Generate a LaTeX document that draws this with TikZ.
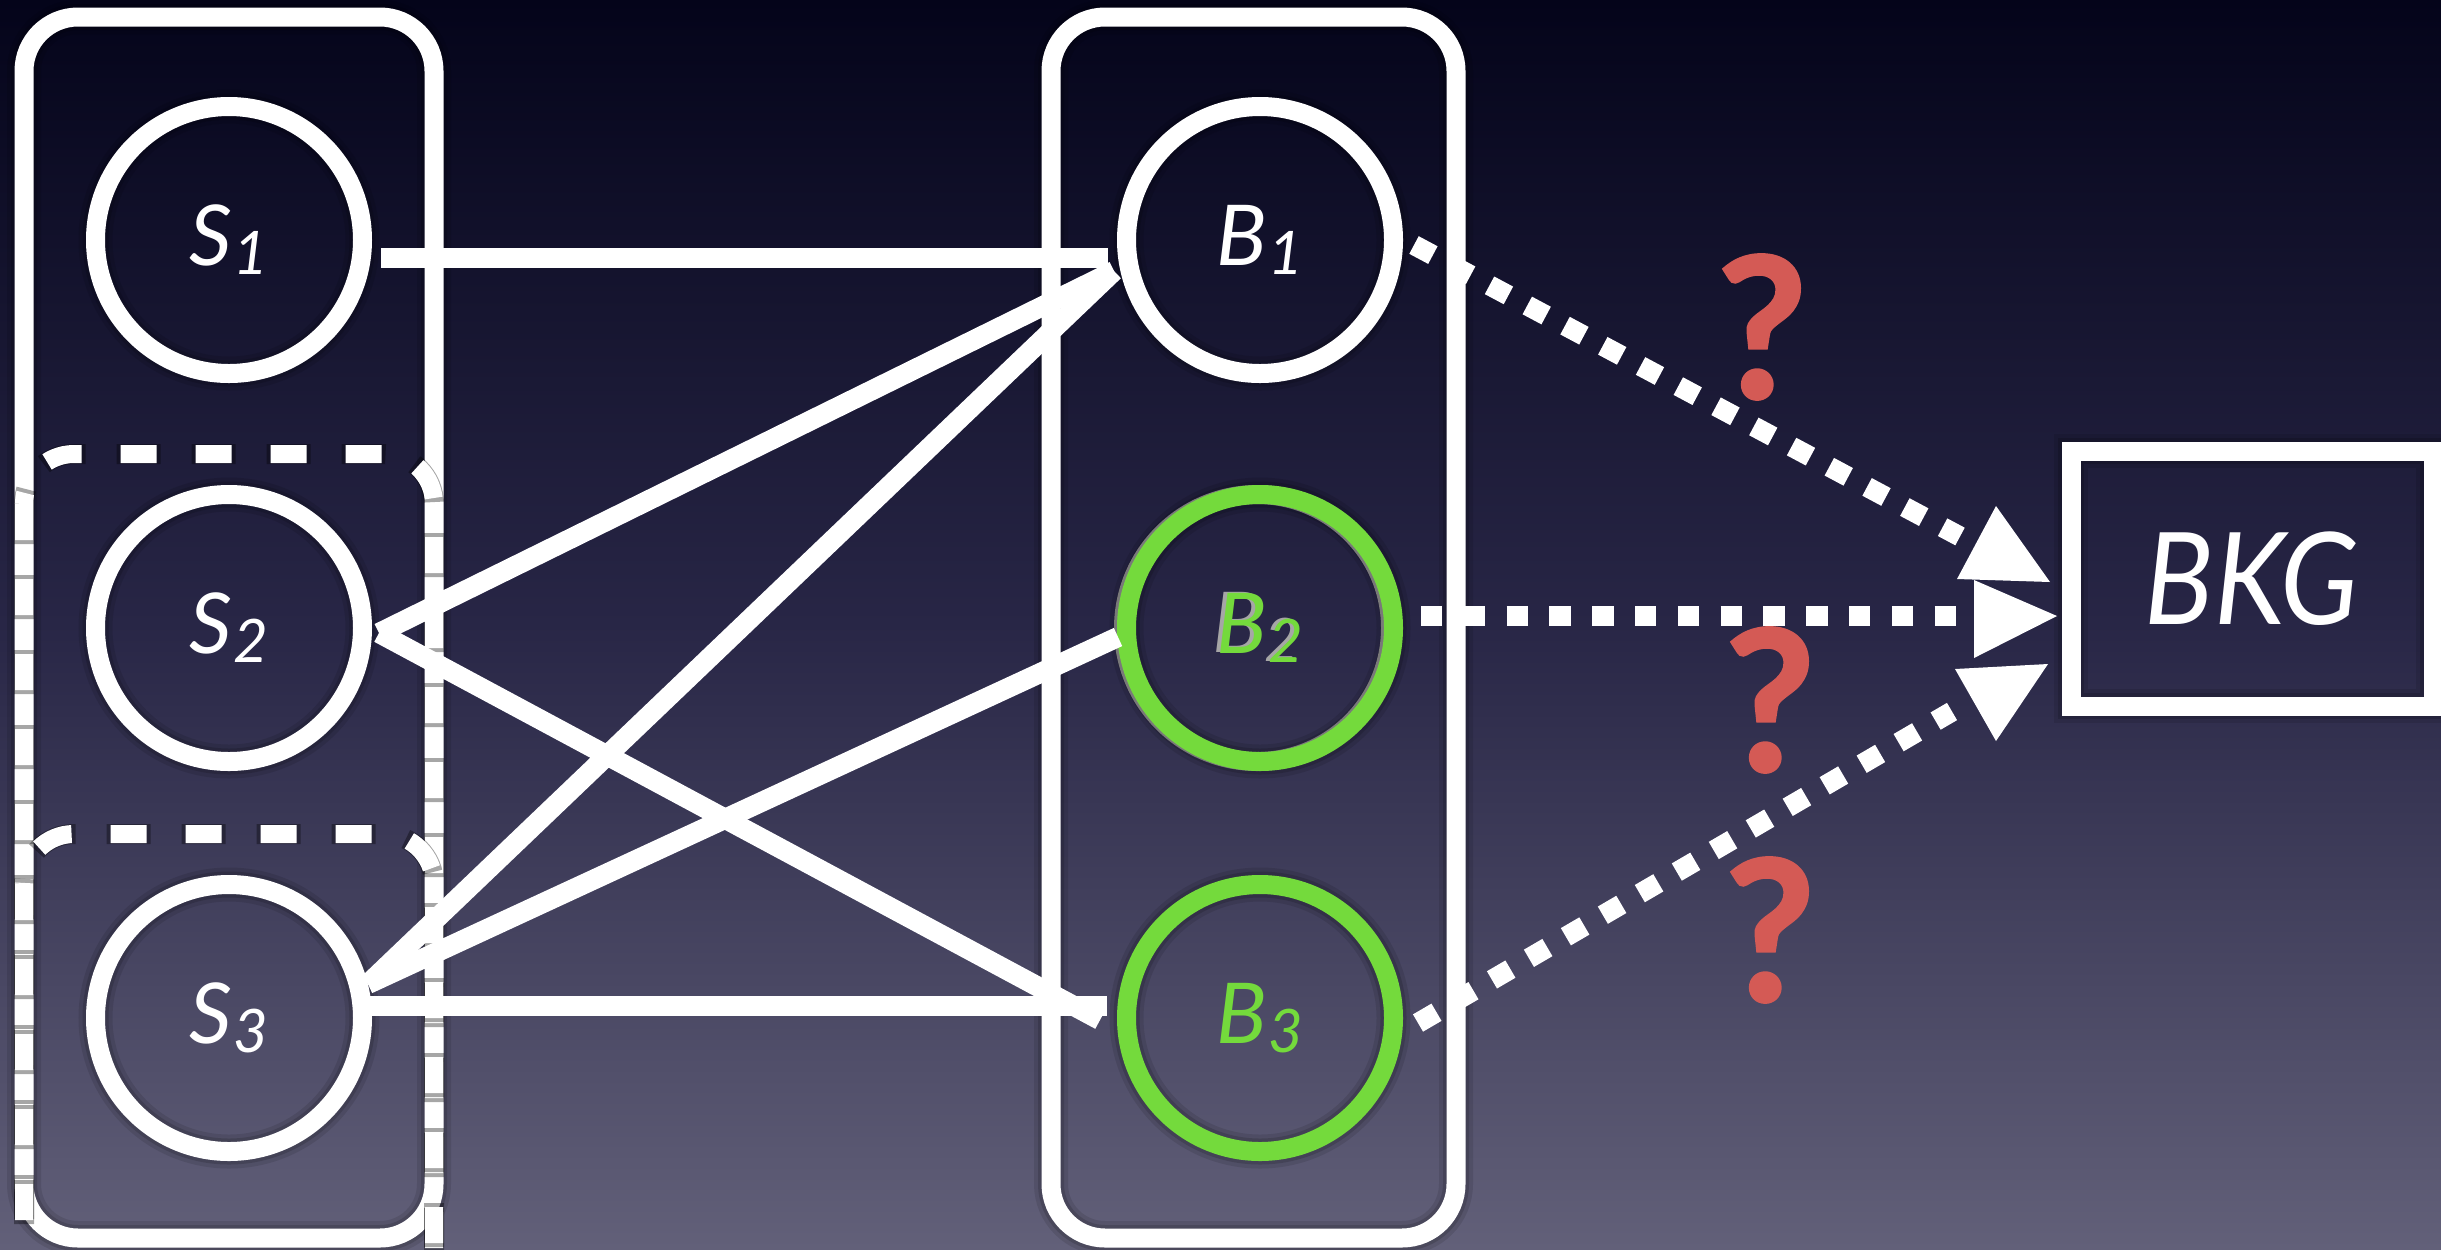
\documentclass[tikz,border=0pt]{standalone}
\usepackage{fontspec}
\setmainfont{Lato}
\usetikzlibrary{calc}

\definecolor{bgtop}{RGB}{4,4,26}
\definecolor{bgmid}{RGB}{40,38,70}
\definecolor{bgbot}{RGB}{98,96,121}
\definecolor{leafgreen}{RGB}{116,218,60}
\definecolor{qred}{RGB}{212,90,85}
% the path's box spans 25bp (bottom) to 75bp (top) of the shading
\pgfdeclareverticalshading{slidebg}{100bp}{color(0bp)=(bgbot); color(25bp)=(bgbot); color(50bp)=(bgmid); color(75bp)=(bgtop); color(100bp)=(bgtop)}

\newcommand\labelfont{\fontsize{42}{42}\selectfont\itshape}
\newcommand\sublabel[2]{#1\kern1pt\raisebox{-4.5pt}{\fontsize{30}{30}\selectfont #2}}

\begin{document}
\begin{tikzpicture}[x=0.5pt, y=-0.5pt,
  halo/.style={preaction={draw=black, draw opacity=0.10, line width=17pt},
               preaction={draw=black, draw opacity=0.14, line width=13pt}},
  wire/.style={draw=white, line width=10pt, line cap=butt},
  dotwire/.style={draw=white, line width=10pt, line cap=butt, dash pattern=on 10.7pt off 10.7pt},
  groupbox/.style={halo, draw=white, line width=9.5pt, rounded corners=27pt},
  subgroup/.style={draw=white, line width=9pt, rounded corners=25pt, dash pattern=on 18pt off 19.5pt},
  subgroupshade/.style={draw=black, draw opacity=0.35, line width=10pt, rounded corners=25pt, dash pattern=on 22pt off 15.5pt, dash phase=2pt},
  var/.style={circle, halo, draw=white, line width=9.5pt, minimum size=133.5pt, inner sep=0pt, text=white, font=\labelfont},
  picked/.style={var, draw=leafgreen, text=leafgreen},
  bkgbox/.style={halo, draw=white, line width=9.5pt, minimum width=181pt, minimum height=127.5pt, inner sep=0pt, text=white, font=\fontsize{64}{64}\selectfont\itshape},
  ask/.style={text=qred, inner sep=0pt, font=\fontsize{98}{98}\selectfont\bfseries\addfontfeature{FakeBold=1.6}},
  tip/.style={fill=white}
]
\useasboundingbox (0,0) rectangle (2441,1249);
\clip (0,0) rectangle (2441,1249);
\shade[shading=slidebg] (0,0) rectangle (2441,1249);

% group frames
\draw[groupbox] (24,17) rectangle (434,1238);
\draw[groupbox] (1051,17) rectangle (1456,1238);
\draw[subgroupshade] (24,454) rectangle (434,1330);
\draw[subgroup] (24,454) rectangle (434,1330);
\draw[subgroupshade] (24,834) rectangle (434,1330);
\draw[subgroup] (24,834) rectangle (434,1330);

% source nodes
\node[var] (S1) at (229,240) {\sublabel{S}{1}};
\node[var] (S2) at (229,628) {\sublabel{S}{2}};
\node[var] (S3) at (229,1018) {\sublabel{S}{3}};

% bin nodes (B2 carries a grey offset copy underneath)
\draw[gray!75, line width=9.5pt] (1257,628) circle[radius=66.75pt];
\node[text=gray!70, font=\labelfont, inner sep=0pt] (B2shade) at (1256,627) {\sublabel{B}{2}};
\node[var] (B1) at (1260,240) {\sublabel{B}{1}};
\node[picked] (B2) at (1260,628) {\sublabel{B}{2}};
\node[picked] (B3) at (1260,1018) {\sublabel{B}{3}};

\node[bkgbox] (BKG) at (2252,578.5) {\scalebox{0.9}[1]{BKG}};

% source-to-bin links
\draw[wire] ($(S1)+(152,18)$) -- ($(B1)+(-152,18)$);
\draw[wire] ($(S2)+(150,5)$) -- ($(B1)+(-146,31)$);
\draw[wire] ($(S2)+(150,5)$) -- ($(B3)+(-160,2)$);
\draw[wire] ($(S3)+(139,-34)$) -- ($(B1)+(-146,31)$);
\draw[wire] ($(S3)+(139,-34)$) -- ($(B2)+(-142,9)$);
\draw[wire] ($(S3)+(139,-12)$) -- ($(B3)+(-153,-12)$);

% bin-to-background links
\draw[dotwire] ($(B1)+(154,5)$) -- ($(BKG)+(-292,-42)$);
\draw[dotwire] ($(B2)+(161,-12)$) -- ($(BKG)+(-296,37.5)$);
\draw[dotwire] ($(B3)+(158,5)$) -- ($(BKG)+(-300,133)$);

% arrow heads
\fill[tip] ($(BKG)+(-256,-72.5)$) -- ($(BKG)+(-295,0.5)$) -- ($(BKG)+(-202,3.5)$) -- cycle;
\fill[tip] ($(BKG)+(-278,1.5)$) -- ($(BKG)+(-195,37.5)$) -- ($(BKG)+(-278,79.5)$) -- cycle;
\fill[tip] ($(BKG)+(-297,90.5)$) -- ($(BKG)+(-204,85.5)$) -- ($(BKG)+(-256,162.5)$) -- cycle;

% question marks
\node[ask] (q1) at (1762,327) {?};
\node[ask] (q2) at (1770,700) {?};
\node[ask] (q3) at (1770,930) {?};
\end{tikzpicture}
\end{document}
